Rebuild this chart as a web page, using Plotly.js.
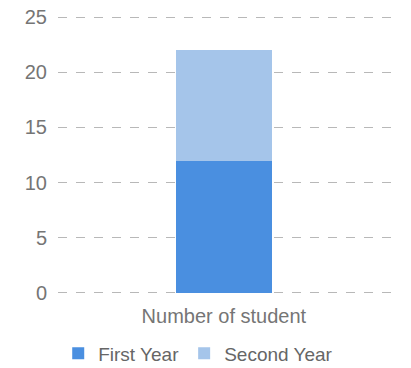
<!DOCTYPE html>
<html>
<head>
<script src="https://cdn.plot.ly/plotly-3.0.1.min.js"></script>
<style>html,body{margin:0;padding:0;background:#fff;}</style>
</head>
<body>
<div id="chart" style="width:411px;height:368px;"></div>
<script>
const categories = ["Number of student"];
const firstYear = [12];
const secondYear = [10];
const seriesNames = ["First Year", "Second Year"];

const font = {family: "Liberation Sans, Arial, sans-serif", size: 20, color: "#757575"};
const data = [
  {type: "bar", x: categories, y: firstYear, name: seriesNames[0], marker: {color: "#4a8fe0"}},
  {type: "bar", x: categories, y: secondYear, name: seriesNames[1], marker: {color: "#a5c5ea"}}
];
const layout = {
  width: 411, height: 368,
  margin: {l: 58, r: 11, t: 15, b: 73},
  barmode: "stack",
  bargap: 0.72,
  font: font,
  plot_bgcolor: "#fff", paper_bgcolor: "#fff",
  showlegend: true,
  legend: {orientation: "h", xref: "paper", x: 0.41, xanchor: "center", yref: "container", y: 0.04, yanchor: "middle", font: {size: 19, color: "#666"}, traceorder: "normal"},
  xaxis: {range: [-0.485, 0.515], showgrid: false, zeroline: false, showline: false, ticks: "", ticklabelstandoff: 7, tickfont: {size: 20, color: "#757575"}},
  yaxis: {range: [-0.2, 25.2], tickvals: [0, 5, 10, 15, 20, 25], zeroline: false, showline: false, gridcolor: "#b8b8b8", griddash: "dash", gridwidth: 1, ticks: "", ticklabelstandoff: 10, tickfont: {size: 20, color: "#757575"}}
};
Plotly.newPlot("chart", data, layout, {displayModeBar: false, staticPlot: true});
</script>
</body>
</html>
